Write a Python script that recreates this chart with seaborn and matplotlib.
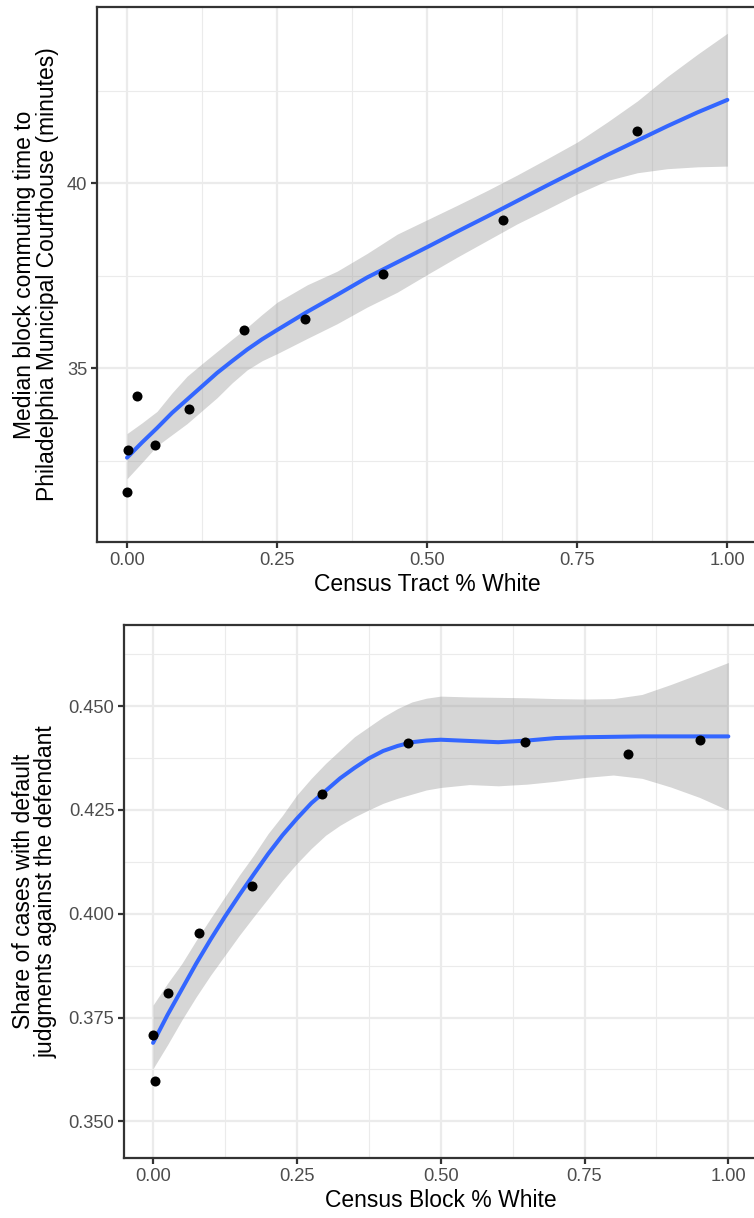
import numpy as np
import pandas as pd
import matplotlib
matplotlib.use("Agg")
import matplotlib.pyplot as plt
import seaborn as sns

# ---------------- data ----------------
# Top panel: binned points
tract_white = [0.000, 0.002, 0.017, 0.046, 0.104, 0.195, 0.296, 0.427, 0.626, 0.850]
tract_commute = [31.65, 32.80, 34.24, 32.91, 33.90, 36.04, 36.32, 37.54, 38.99, 41.41]

# Top panel: smooth fit and its 95% band
tract_fit_x = [0.0, 0.025, 0.05, 0.075, 0.10, 0.125, 0.15, 0.175, 0.20, 0.225, 0.25,
               0.30, 0.35, 0.40, 0.45, 0.50, 0.55, 0.60, 0.65, 0.70, 0.75, 0.80,
               0.85, 0.90, 0.95, 1.0]
tract_fit = [32.58, 32.99, 33.38, 33.79, 34.15, 34.51, 34.87, 35.19, 35.50, 35.78, 36.03,
             36.52, 36.98, 37.45, 37.86, 38.27, 38.69, 39.10, 39.52, 39.94, 40.35, 40.76,
             41.15, 41.54, 41.91, 42.25]
tract_hi = [33.23, 33.52, 33.83, 34.33, 34.78, 35.12, 35.45, 35.78, 36.10, 36.45, 36.78,
            37.25, 37.62, 38.10, 38.62, 39.01, 39.40, 39.80, 40.22, 40.66, 41.11, 41.65,
            42.22, 42.88, 43.48, 44.05]
tract_lo = [32.01, 32.45, 32.90, 33.20, 33.50, 33.85, 34.20, 34.60, 34.95, 35.20, 35.39,
            35.80, 36.20, 36.65, 37.05, 37.53, 38.00, 38.45, 38.90, 39.30, 39.71, 40.07,
            40.28, 40.39, 40.44, 40.46]

# Bottom panel: binned points
block_white = [0.000, 0.004, 0.026, 0.079, 0.172, 0.293, 0.444, 0.647, 0.825, 0.950]
block_default = [0.3709, 0.3598, 0.3808, 0.3953, 0.4067, 0.4288, 0.4411, 0.4413, 0.4384, 0.4418]

# Bottom panel: smooth fit and its 95% band
block_fit_x = [0.0, 0.025, 0.05, 0.075, 0.10, 0.125, 0.15, 0.175, 0.20, 0.225, 0.25,
               0.275, 0.30, 0.325, 0.35, 0.375, 0.40, 0.425, 0.45, 0.475, 0.50,
               0.55, 0.60, 0.65, 0.70, 0.75, 0.80, 0.85, 0.90, 0.95, 1.0]
block_fit = [0.3689, 0.3756, 0.3818, 0.3880, 0.3938, 0.3993, 0.4045, 0.4095, 0.4144, 0.4189, 0.4229,
             0.4266, 0.4296, 0.4326, 0.4351, 0.4374, 0.4392, 0.4404, 0.4413, 0.4417, 0.4419,
             0.4416, 0.4413, 0.4417, 0.4423, 0.4425, 0.4426, 0.4427, 0.4427, 0.4427, 0.4427]
block_hi = [0.3780, 0.3832, 0.3880, 0.3936, 0.3989, 0.4041, 0.4093, 0.4141, 0.4193, 0.4237, 0.4286,
            0.4326, 0.4362, 0.4394, 0.4426, 0.4450, 0.4474, 0.4494, 0.4510, 0.4519, 0.4524,
            0.4522, 0.4521, 0.4520, 0.4518, 0.4517, 0.4518, 0.4528, 0.4552, 0.4578, 0.4605]
block_lo = [0.3627, 0.3684, 0.3744, 0.3800, 0.3852, 0.3900, 0.3948, 0.3993, 0.4037, 0.4081, 0.4121,
            0.4157, 0.4189, 0.4213, 0.4233, 0.4250, 0.4266, 0.4278, 0.4288, 0.4298, 0.4304,
            0.4311, 0.4308, 0.4312, 0.4319, 0.4328, 0.4334, 0.4326, 0.4305, 0.4280, 0.4249]

x_ticks = [0.0, 0.25, 0.5, 0.75, 1.0]
x_tick_labels = ["0.00", "0.25", "0.50", "0.75", "1.00"]
top_y_ticks = [35, 40]
top_y_tick_labels = ["35", "40"]
bot_y_ticks = [0.350, 0.375, 0.400, 0.425, 0.450]
bot_y_tick_labels = ["0.350", "0.375", "0.400", "0.425", "0.450"]

top_xlabel = "Census Tract % White"
top_ylabel = "Median block commuting time to\nPhiladelphia Municipal Courthouse (minutes)"
bot_xlabel = "Census Block % White"
bot_ylabel = "Share of cases with default\njudgments against the defendant"

# ---------------- style ----------------
sns.set_theme(style="white")
plt.rcParams['font.family'] = ['Liberation Sans', 'DejaVu Sans']

BLUE = "#3366FF"
GRID = "#EBEBEB"
DARK = "#333333"

W, H = 754, 1218
fig = plt.figure(figsize=(W / 100, H / 100), dpi=100)
fig.patch.set_facecolor("white")

ax1 = fig.add_axes([97 / W, 1 - 542 / H, (757.4 - 97) / W, (542 - 7) / H])
ax2 = fig.add_axes([124.3 / W, 1 - 1158.3 / H, (757.1 - 124.3) / W, (1158.3 - 624.7) / H])


def style(ax, yticks, ylabels, yminor):
    ax.set_facecolor("white")
    ax.set_xticks(x_ticks)
    ax.set_xticklabels(x_tick_labels)
    ax.set_xticks([0.125, 0.375, 0.625, 0.875], minor=True)
    ax.set_yticks(yticks)
    ax.set_yticklabels(ylabels)
    ax.set_yticks(yminor, minor=True)
    ax.grid(which="major", color=GRID, linewidth=1.6)
    ax.grid(which="minor", color=GRID, linewidth=0.8)
    ax.set_axisbelow(True)
    for s in ax.spines.values():
        s.set_color(DARK)
        s.set_linewidth(1.6)
    ax.tick_params(which="major", length=4.1, width=1.6, color=DARK,
                   labelsize=13.2, labelcolor="#4D4D4D", pad=3.0,
                   bottom=True, left=True, top=False, right=False)
    ax.tick_params(which="minor", length=0)


def panel(ax, px, py, fx, fy, lo, hi):
    ax.fill_between(fx, lo, hi, color="#999999", alpha=0.4, linewidth=0, zorder=1)
    sns.lineplot(x=fx, y=fy, ax=ax, color=BLUE, linewidth=2.9, sort=False,
                 estimator=None, zorder=2)
    sns.scatterplot(x=px, y=py, ax=ax, color="black", s=52, linewidth=0, zorder=3)


panel(ax1, tract_white, tract_commute, tract_fit_x, tract_fit, tract_lo, tract_hi)
style(ax1, top_y_ticks, top_y_tick_labels, [32.5, 37.5, 42.5])
ax1.set_xlim(-0.05, 1.05)
ax1.set_ylim(30.30, 44.76)
ax1.set_xlabel(top_xlabel, fontsize=16.5, color="black", labelpad=3)
ax1.set_ylabel("")

panel(ax2, block_white, block_default, block_fit_x, block_fit, block_lo, block_hi)
style(ax2, bot_y_ticks, bot_y_tick_labels, [0.3625, 0.3875, 0.4125, 0.4375, 0.4625])
ax2.set_xlim(-0.05, 1.05)
ax2.set_ylim(0.3411, 0.4696)
ax2.set_xlabel(bot_xlabel, fontsize=16.5, color="black", labelpad=3)
ax2.set_ylabel("")

fig.text(36 / W, 1 - 274.5 / H, top_ylabel, rotation=90, ha="center", va="center",
         fontsize=16.5, color="black", multialignment="center", linespacing=1.0)
fig.text(35 / W, 1 - 891.5 / H, bot_ylabel, rotation=90, ha="center", va="center",
         fontsize=16.5, color="black", multialignment="center", linespacing=1.0)

fig.savefig("out.png", dpi=100, facecolor="white")
